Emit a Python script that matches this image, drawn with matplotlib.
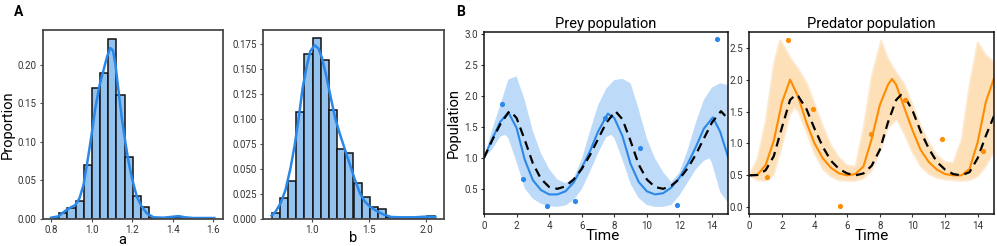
import numpy as np
import matplotlib
matplotlib.use("Agg")
import matplotlib.pyplot as plt

plt.rcParams['font.family'] = ['Roboto', 'DejaVu Sans']

# ---------------- Panel A data ----------------
a_lo, a_hi, a_nbins = 0.80, 1.605, 20
a_heights = [0.001, 0.0073, 0.0138, 0.0237, 0.0698, 0.170, 0.189, 0.2337, 0.160, 0.0797,
             0.0297, 0.016, 0.001, 0.001, 0.0, 0.003, 0.0, 0.0, 0.0, 0.001]
a_kde_x = [0.800, 0.836, 0.869, 0.894, 0.919, 0.940, 0.960, 0.982, 1.002, 1.018, 1.039, 1.059,
           1.076, 1.092, 1.105, 1.118, 1.133, 1.149, 1.166, 1.182, 1.199, 1.223, 1.247, 1.272,
           1.305, 1.354, 1.403, 1.428, 1.460, 1.500, 1.605]
a_kde_y = [0.0017, 0.0034, 0.0103, 0.0146, 0.018, 0.0267, 0.044, 0.0785, 0.113, 0.143, 0.173, 0.193,
           0.210, 0.2215, 0.2185, 0.199, 0.165, 0.130, 0.100, 0.074, 0.0526, 0.0289, 0.016, 0.0073,
           0.0022, 0.0017, 0.003, 0.0038, 0.0022, 0.0013, 0.0013]

b_lo, b_hi, b_nbins = 0.646, 2.080, 20
b_heights = [0.0057, 0.0207, 0.0383, 0.1067, 0.165, 0.1807, 0.159, 0.1083, 0.0697, 0.0657,
             0.0357, 0.0215, 0.0117, 0.0095, 0.0023, 0.001, 0.0, 0.001, 0.0, 0.003]
b_kde_x = [0.646, 0.681, 0.725, 0.768, 0.812, 0.849, 0.884, 0.918, 0.957, 0.985, 1.023, 1.057,
           1.087, 1.122, 1.159, 1.202, 1.246, 1.289, 1.332, 1.376, 1.419, 1.463, 1.506, 1.564,
           1.622, 1.694, 1.781, 1.897, 1.983, 2.040, 2.080]
b_kde_y = [0.0033, 0.0073, 0.0157, 0.029, 0.0507, 0.074, 0.1007, 0.1307, 0.154, 0.1673, 0.1733, 0.170,
           0.1607, 0.144, 0.124, 0.1007, 0.084, 0.069, 0.054, 0.039, 0.0257, 0.0173, 0.0123, 0.008,
           0.0047, 0.002, 0.0017, 0.0017, 0.0023, 0.0023, 0.002]

# ---------------- Panel B data (time, value pairs) ----------------
prey_true_t = [0, 0.5, 1.0, 1.5, 1.62, 2.0, 2.5, 3.0, 3.5, 4.0, 4.5, 5.0, 5.5, 6.0, 6.5, 7.0, 7.5,
               8.07, 8.5, 9.0, 9.5, 10.0, 10.5, 11.0, 11.5, 12.0, 12.5, 13.0, 13.5, 14.0, 14.55, 15.0]
prey_true = [1.00, 1.28, 1.54, 1.73, 1.75, 1.64, 1.29, 0.91, 0.66, 0.53, 0.50, 0.54, 0.65, 0.82,
             1.04, 1.30, 1.56, 1.75, 1.62, 1.27, 0.89, 0.65, 0.53, 0.50, 0.55, 0.66, 0.83, 1.05,
             1.31, 1.57, 1.75, 1.62]
prey_mean_t = [0, 0.5, 1.0, 1.5, 2.0, 2.5, 3.0, 3.5, 4.0, 4.5, 5.0, 5.5, 6.0, 6.5, 7.0, 7.6,
               8.0, 8.5, 9.0, 9.5, 10.0, 10.5, 11.0, 11.5, 12.0, 12.5, 13.0, 13.5, 14.05, 14.5, 15.0]
prey_mean = [1.00, 1.30, 1.58, 1.73, 1.48, 0.97, 0.64, 0.48, 0.41, 0.41, 0.46, 0.60, 0.84, 1.10,
             1.42, 1.71, 1.64, 1.35, 0.90, 0.61, 0.46, 0.41, 0.43, 0.52, 0.68, 0.90, 1.17, 1.47,
             1.65, 1.42, 1.00]
prey_upper_t = [0, 0.5, 1.0, 1.5, 2.0, 2.5, 3.0, 3.5, 4.0, 4.5, 5.0, 5.5, 6.0, 6.5, 7.0, 7.5,
                8.0, 8.5, 9.0, 9.5, 10.0, 10.5, 11.0, 11.5, 12.0, 12.5, 13.0, 13.5, 14.0, 14.5, 15.0]
prey_upper = [1.00, 1.45, 1.85, 2.26, 2.31, 1.93, 1.43, 1.07, 0.82, 0.65, 0.59, 0.67, 0.97, 1.42,
              1.84, 2.11, 2.25, 2.27, 2.20, 1.78, 1.31, 0.99, 0.77, 0.61, 0.76, 1.12, 1.56, 1.93,
              2.13, 2.20, 2.17]
prey_lower_t = [0, 0.5, 1.0, 1.3, 1.5, 2.0, 2.5, 3.0, 3.5, 4.0, 4.5, 5.0, 5.5, 6.0, 6.5, 7.0,
                7.5, 7.8, 8.0, 8.5, 9.0, 9.5, 10.0, 10.5, 11.0, 11.5, 12.0, 12.5, 13.0, 13.5,
                13.85, 14.0, 14.5, 15.0]
prey_lower = [1.00, 1.13, 1.34, 1.37, 1.31, 0.93, 0.51, 0.34, 0.26, 0.22, 0.21, 0.23, 0.32, 0.49,
              0.77, 1.07, 1.33, 1.37, 1.32, 0.97, 0.58, 0.35, 0.24, 0.21, 0.21, 0.24, 0.39, 0.60,
              0.81, 0.95, 0.99, 0.91, 0.45, 0.27]

pred_true_t = [0, 0.5, 1.0, 1.5, 2.0, 2.5, 2.82, 3.0, 3.5, 4.0, 4.5, 5.0, 5.5, 6.0, 6.5, 7.0,
               7.5, 8.0, 8.5, 9.0, 9.3, 9.5, 10.0, 10.5, 11.0, 11.5, 12.0, 12.5, 13.0, 13.5,
               14.0, 14.5, 15.0]
pred_true = [0.50, 0.505, 0.58, 0.80, 1.25, 1.68, 1.76, 1.74, 1.54, 1.23, 0.95, 0.73, 0.60, 0.53,
             0.50, 0.53, 0.65, 0.90, 1.33, 1.68, 1.76, 1.74, 1.52, 1.19, 0.92, 0.71, 0.59, 0.52,
             0.50, 0.55, 0.77, 1.12, 1.43]
pred_mean_t = [0, 0.5, 1.0, 1.5, 2.0, 2.5, 3.0, 3.5, 4.0, 4.5, 5.0, 5.5, 6.0, 6.5, 7.0, 7.5,
               8.0, 8.5, 8.75, 9.0, 9.5, 10.0, 10.5, 11.0, 11.5, 12.0, 12.5, 13.0, 13.5, 14.0,
               14.5, 15.0]
pred_mean = [0.50, 0.51, 0.66, 1.04, 1.64, 2.00, 1.73, 1.33, 1.00, 0.77, 0.62, 0.53, 0.50, 0.52,
             0.64, 1.07, 1.60, 1.92, 2.01, 1.92, 1.56, 1.21, 0.90, 0.71, 0.59, 0.52, 0.50, 0.50,
             0.60, 1.02, 1.65, 2.02]
pred_upper_t = [0, 0.5, 1.0, 1.5, 1.88, 2.0, 2.5, 3.0, 3.5, 4.0, 4.5, 5.0, 5.5, 6.0, 6.5, 7.0,
                7.5, 8.08, 8.5, 9.0, 9.5, 10.0, 10.5, 11.0, 11.5, 12.0, 12.5, 13.0, 13.5, 14.0,
                14.5, 15.0]
pred_upper = [0.50, 0.76, 1.35, 2.25, 2.62, 2.58, 2.35, 2.17, 1.96, 1.63, 1.28, 0.98, 0.78, 0.66,
              0.64, 1.25, 2.05, 2.62, 2.33, 2.12, 1.93, 1.62, 1.29, 1.02, 0.82, 0.71, 0.70, 1.05,
              1.92, 2.59, 2.39, 2.27]
pred_lower_t = [0, 0.5, 1.0, 1.5, 2.0, 2.5, 2.78, 3.0, 3.5, 4.0, 4.5, 5.0, 5.5, 6.0, 6.5, 7.0,
                7.5, 8.0, 8.5, 9.05, 9.5, 10.0, 10.5, 11.0, 11.5, 12.0, 12.5, 13.0, 13.5, 14.0,
                14.5, 15.0]
pred_lower = [0.50, 0.42, 0.41, 0.50, 0.95, 1.45, 1.56, 1.50, 1.18, 0.84, 0.60, 0.48, 0.42, 0.41,
              0.41, 0.45, 0.57, 0.86, 1.24, 1.37, 1.15, 0.86, 0.64, 0.52, 0.46, 0.43, 0.42, 0.41,
              0.42, 0.48, 0.64, 0.86]

obs_time = [1.1, 2.4, 3.88, 5.57, 7.45, 9.55, 11.84, 14.3]
prey_obs = [1.865, 0.652, 0.222, 0.308, 1.634, 1.151, 0.238, 2.907]
pred_obs = [0.48, 2.62, 1.54, 0.016, 1.14, 1.68, 1.07, 0.875]

# ---------------- styling ----------------
W, H = 997, 246
fig = plt.figure(figsize=(W / 100, H / 100), dpi=100)

def px_axes(x0, y0, x1, y1):
    return fig.add_axes([x0 / W, 1 - y1 / H, (x1 - x0) / W, (y1 - y0) / H])

BAR = '#93c2ef'
KDE = '#2a88ea'
BLUE = '#2b88e8'
BLUE_BAND = '#bddbf8'
ORANGE = '#ff8c00'
ORANGE_BAND = '#fde0b8'
TICKC = '#333333'

def style_hist_axes(ax):
    for s in ax.spines.values():
        s.set_color('#4a4a4a')
        s.set_linewidth(1.3)
    ax.tick_params(axis='both', labelsize=7, colors='#4a4a4a', labelcolor=TICKC,
                   length=2.5, width=0.8, pad=2)

def style_line_axes(ax):
    for s in ax.spines.values():
        s.set_color('#111111')
        s.set_linewidth(1.1)
    ax.tick_params(axis='both', labelsize=7, colors='#333333', labelcolor=TICKC,
                   length=2.5, width=0.8, pad=2)

def band(ax, tu, yu, tl, yl, **kw):
    xs = np.concatenate([np.asarray(tu, float), np.asarray(tl, float)[::-1]])
    ys = np.concatenate([np.asarray(yu, float), np.asarray(yl, float)[::-1]])
    ax.fill(xs, ys, **kw)

def place_xlabel(ax, x_frac, y_px, ax_bottom_px, ax_height_px):
    ax.xaxis.set_label_coords(x_frac, (ax_bottom_px - y_px) / ax_height_px)
    ax.xaxis.label.set_va('center')

# ---- A1 ----
ax1 = px_axes(42.7, 29.5, 222.7, 219)
edges_a = np.linspace(a_lo, a_hi, a_nbins + 1)
ax1.bar(edges_a[:-1], a_heights, width=np.diff(edges_a), align='edge',
        color=BAR, edgecolor='#111111', linewidth=1.1)
ax1.plot(a_kde_x, a_kde_y, color=KDE, lw=1.8)
ax1.set_xlim(0.759, 1.646)
ax1.set_ylim(0, 0.2454)
ax1.set_xticks([0.8, 1.0, 1.2, 1.4, 1.6])
ax1.set_yticks([0.0, 0.05, 0.10, 0.15, 0.20])
ax1.yaxis.set_major_formatter(matplotlib.ticker.FormatStrFormatter('%.2f'))
ax1.set_ylabel('Proportion', fontsize=10.5, labelpad=2)
ax1.set_xlabel('a', fontsize=10.5)
place_xlabel(ax1, 0.44, 239.5, 219, 189.5)
style_hist_axes(ax1)

# ---- A2 ----
ax2 = px_axes(263.3, 29.5, 443.7, 219)
edges_b = np.linspace(b_lo, b_hi, b_nbins + 1)
ax2.bar(edges_b[:-1], b_heights, width=np.diff(edges_b), align='edge',
        color=BAR, edgecolor='#111111', linewidth=1.1)
ax2.plot(b_kde_x, b_kde_y, color=KDE, lw=1.8)
ax2.set_xlim(0.574, 2.152)
ax2.set_ylim(0, 0.189)
ax2.set_xticks([1.0, 1.5, 2.0])
ax2.set_yticks(np.arange(0, 0.176, 0.025))
ax2.yaxis.set_major_formatter(matplotlib.ticker.FormatStrFormatter('%.3f'))
ax2.set_xlabel('b', fontsize=10.5)
place_xlabel(ax2, 0.5, 238.5, 219, 189.5)
style_hist_axes(ax2)

# ---- B1 prey ----
ax3 = px_axes(484, 31.7, 728.3, 214.3)
band(ax3, prey_upper_t, prey_upper, prey_lower_t, prey_lower, color=BLUE_BAND, lw=0)
ax3.plot(prey_mean_t, prey_mean, color=BLUE, lw=1.5)
ax3.plot(prey_true_t, prey_true, color='black', lw=1.6, ls=(0, (4, 2.6)))
ax3.scatter(obs_time, prey_obs, s=14, color=BLUE, zorder=5, linewidths=0)
ax3.set_xlim(0, 15)
ax3.set_ylim(0.09, 3.03)
ax3.set_xticks(range(0, 15, 2))
ax3.set_yticks([0.5, 1.0, 1.5, 2.0, 2.5, 3.0])
ax3.set_title('Prey population', fontsize=10.5, pad=3)
ax3.set_xlabel('Time', fontsize=11)
place_xlabel(ax3, 0.488, 236.5, 214.3, 182.6)
ax3.set_ylabel('Population', fontsize=10.5, labelpad=2)
style_line_axes(ax3)

# ---- B2 predator ----
ax4 = px_axes(749.3, 31.7, 994, 214.3)
band(ax4, pred_upper_t, pred_upper, pred_lower_t, pred_lower,
     facecolor=ORANGE_BAND, edgecolor='#fdead2', lw=1.2)
ax4.plot(pred_mean_t, pred_mean, color=ORANGE, lw=1.5)
ax4.plot(pred_true_t, pred_true, color='black', lw=1.6, ls=(0, (4, 2.6)))
ax4.scatter(obs_time, pred_obs, s=14, color=ORANGE, zorder=5, linewidths=0)
ax4.set_xlim(0, 15)
ax4.set_ylim(-0.11, 2.75)
ax4.set_xticks(range(0, 15, 2))
ax4.set_yticks([0.0, 0.5, 1.0, 1.5, 2.0, 2.5])
ax4.set_title('Predator population', fontsize=10.5, pad=3)
ax4.set_xlabel('Time', fontsize=11)
place_xlabel(ax4, 0.5, 236.5, 214.3, 182.6)
style_line_axes(ax4)

fig.text(14 / W, 1 - 12 / H, 'A', fontsize=10, fontweight='bold', va='center', ha='left')
fig.text(456 / W, 1 - 12 / H, 'B', fontsize=10, fontweight='bold', va='center', ha='left')

fig.savefig('out.png', dpi=100)
